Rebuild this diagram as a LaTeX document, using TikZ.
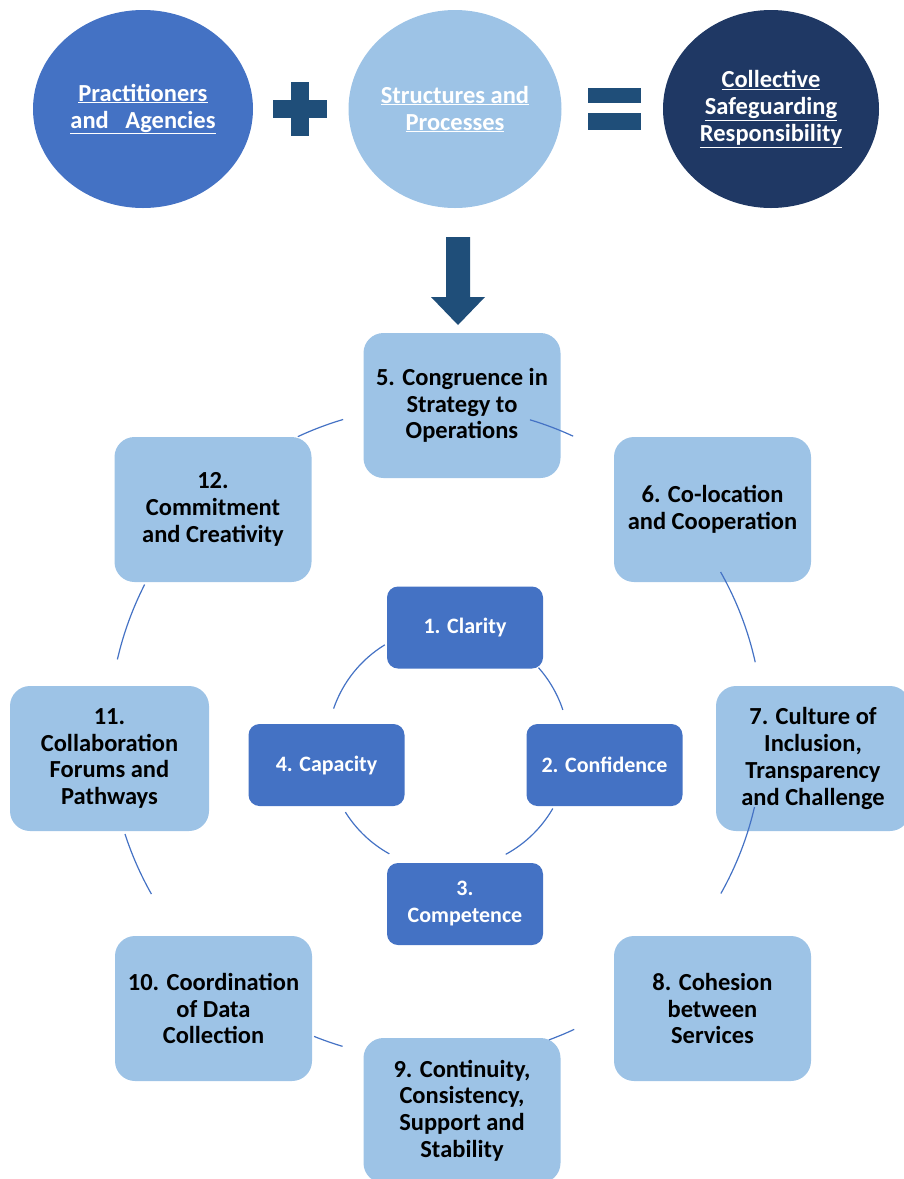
\documentclass[tikz,border=0pt]{standalone}
\usepackage{fontspec}
\setmainfont{Carlito}
\usetikzlibrary{shapes.geometric}
\definecolor{midblue}{HTML}{4472C4}
\definecolor{paleblue}{HTML}{9DC3E6}
\definecolor{navy}{HTML}{1F3864}
\definecolor{deepblue}{HTML}{1F4E79}

\begin{document}
\begin{tikzpicture}[x=1pt,y=1pt,
  topcirc/.style={ellipse, draw=none, minimum width=216pt, minimum height=198pt,
    inner sep=0pt, align=center, text=white,
    font=\fontsize{24.5}{27}\selectfont\bfseries},
  outerbox/.style={draw=none, fill=paleblue, rounded corners=20pt,
    minimum width=197pt, minimum height=145pt, inner sep=0pt, align=center,
    text=black, font=\fontsize{24.5}{26.8}\selectfont\bfseries},
  innerbox/.style={draw=none, fill=midblue, rounded corners=11pt,
    minimum width=156pt, minimum height=82pt, inner sep=0pt, align=center,
    text=white, font=\fontsize{22}{27}\selectfont\bfseries},
  link/.style={draw=midblue, line width=1.2pt},
  symbol/.style={fill=deepblue, draw=none}
]
\useasboundingbox (0,0) rectangle (904,-1179);

% top equation: practitioners + structures = responsibility
\node[topcirc, fill=midblue, minimum width=220pt] (pa) at (143,-109)
  {\underline{Practitioners}\\\underline{and~~~Agencies}};
\node[topcirc, fill=paleblue, minimum width=213pt] (sp) at (455,-109)
  {\underline{Structures and}\\\underline{Processes}};
\node[topcirc, fill=navy] (cs) at (771,-109)
  {\underline{Collective}\\\underline{Safeguarding}\\\underline{Responsibility}};

% plus sign
\coordinate (plus) at (300,-109);
\fill[symbol] ([shift={(-27,-9)}]plus) rectangle ([shift={(27,9)}]plus);
\fill[symbol] ([shift={(-9,-27)}]plus) rectangle ([shift={(9,27)}]plus);

% equals sign
\coordinate (eq) at (614.5,-109);
\fill[symbol] ([shift={(-26.5,6)}]eq) rectangle ([shift={(26.5,21)}]eq);
\fill[symbol] ([shift={(-26.5,-4)}]eq) rectangle ([shift={(26.5,-21)}]eq);

% outer ring of boxes
\node[outerbox] (b5) at (462,-405.5) {5. Congruence in\\Strategy to\\Operations};
\node[outerbox] (b6) at (712.5,-509.5) {6. Co-location\\and Cooperation};
\node[outerbox, minimum width=194pt] (b7) at (813,-758.5)
  {7. Culture of\\Inclusion,\\Transparency\\and Challenge};
\node[outerbox] (b8) at (712.5,-1008.5) {8. Cohesion\\between\\Services};
\node[outerbox] (b9) at (462,-1110.5)
  {9. Continuity,\\Consistency,\\Support and\\Stability};
\node[outerbox] (b10) at (213.5,-1008.5) {10. Coordination\\of Data\\Collection};
\node[outerbox, minimum width=199pt] (b11) at (109.5,-758.5)
  {11.\\Collaboration\\Forums and\\Pathways};
\node[outerbox] (b12) at (213,-509.5) {12.\\Commitment\\and Creativity};

% arrow from the equation down to box 5
\coordinate (arrtop) at (458,-237);
\fill[symbol] ([shift={(-12,0)}]arrtop) -- ([shift={(12,0)}]arrtop)
  -- ([shift={(12,-60)}]arrtop) -- ([shift={(27,-60)}]arrtop)
  -- ([shift={(0,-88)}]arrtop) -- ([shift={(-27,-60)}]arrtop)
  -- ([shift={(-12,-60)}]arrtop) -- cycle;

% inner ring of boxes
\node[innerbox] (b1) at (465,-627.5) {1. Clarity};
\node[innerbox] (b2) at (604.5,-765) {2. Confidence};
\node[innerbox] (b3) at (465,-904) {3.\\Competence};
\node[innerbox] (b4) at (326.5,-765) {4. Capacity};

% arcs of the outer cycle
\coordinate (O) at (436,-733);
\foreach \a/\b in {115/106.5, 73.3/65.2, 29.5/12.5, -13.1/-29.4,
                   -65/-69.8, -106.6/-111.9, -150.5/-162, 167/153}
  \draw[link] ([shift={(\a:327)}]O) arc[start angle=\a, end angle=\b, radius=327];

% arcs of the inner cycle
\coordinate (I) at (448,-748);
\foreach \a/\b in {161/121.5, 41.6/18.4, -30/-61.5, -119/-148}
  \draw[link] ([shift={(\a:121)}]I) arc[start angle=\a, end angle=\b, radius=121];
\end{tikzpicture}
\end{document}
